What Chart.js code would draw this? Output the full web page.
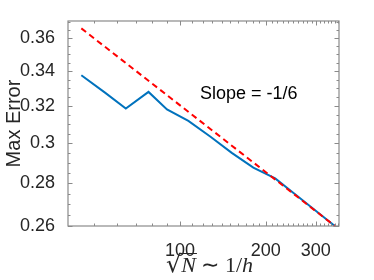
<!DOCTYPE html>
<html lang="en">
<head>
<meta charset="utf-8">
<title>Max Error vs sqrt(N)</title>
<script src="https://cdn.jsdelivr.net/npm/chart.js@4.4.0/dist/chart.umd.min.js"></script>
<style>
  html, body { margin: 0; padding: 0; background: #fff; }
</style>
</head>
<body>
<canvas id="myChart" width="374" height="280"></canvas>
<script>
// values
const sqrtN = [45, 54.5, 64.5, 77.5, 90, 107, 128, 152, 181, 216, 257, 306, 350];
const maxError = [0.3375, 0.3275, 0.3186, 0.3279, 0.3181, 0.3119, 0.3034, 0.2951, 0.2876, 0.2823, 0.2741, 0.266, 0.26];

// slope -1/6 reference line (end points)
const refX = [45, 350];
const refY = [0.366, 0.26];

// axes
const xTickLabels = [100, 200, 300];
const yTickLabels = [0.26, 0.28, 0.3, 0.32, 0.34, 0.36];
const xRange = [40.4, 362];
const yRange = [0.26, 0.3707];

// annotation
const slopeText = 'Slope = -1/6';
const slopeAt = [117.6, 0.3266];

// minor tick positions (matlab style)
let xTicks = [];
for (let v = 50; v <= 360; v += 10) xTicks.push(v);
let yTicks = [];
for (let i = 0; i <= 22; i++) yTicks.push(Math.round((0.26 + 0.005 * i) * 1000) / 1000);

const isMajor = (list, v) => list.some(t => Math.abs(t - v) < 1e-9);

const frameTicks = {
    id: 'frameTicks',
    afterDraw(chart) {
        const ctx = chart.ctx;
        const a = chart.chartArea;
        const xs = chart.scales.x, ys = chart.scales.y;
        ctx.save();
        ctx.strokeStyle = '#8a8a8a';
        ctx.lineWidth = 1.2;
        ctx.strokeRect(a.left, a.top, a.right - a.left, a.bottom - a.top);
        ctx.lineWidth = 1;
        ctx.beginPath();
        xTicks.forEach(v => {
            const px = Math.round(xs.getPixelForValue(v)) + 0.5;
            const len = isMajor(xTickLabels, v) ? 4.5 : 2.5;
            ctx.moveTo(px, a.bottom); ctx.lineTo(px, a.bottom - len);
            ctx.moveTo(px, a.top); ctx.lineTo(px, a.top + len);
        });
        yTicks.forEach(v => {
            const py = Math.round(ys.getPixelForValue(v)) + 0.5;
            const len = isMajor(yTickLabels, v) ? 4.5 : 2.5;
            ctx.moveTo(a.left, py); ctx.lineTo(a.left + len, py);
            ctx.moveTo(a.right, py); ctx.lineTo(a.right - len, py);
        });
        ctx.stroke();

        // slope note
        ctx.fillStyle = '#000';
        ctx.font = '18px "Liberation Sans", Arial, sans-serif';
        ctx.textAlign = 'left';
        ctx.textBaseline = 'middle';
        ctx.fillText(slopeText, xs.getPixelForValue(slopeAt[0]), ys.getPixelForValue(slopeAt[1]));

        // x label: sqrt(N) ~ 1/h, latex look
        const parts = [
            { t: '\u221A', f: '24px "DejaVu Serif", serif' },
            { t: 'N', f: 'italic 22px "Liberation Serif", serif', bar: true },
            { t: ' \u223C 1/', f: '22px "Liberation Serif", serif' },
            { t: 'h', f: 'italic 22px "Liberation Serif", serif' }
        ];
        let w = 0;
        parts.forEach(p => { ctx.font = p.f; p.w = ctx.measureText(p.t).width; w += p.w; });
        let x = (a.left + a.right) / 2 + 6 - w / 2;
        const base = 272;
        ctx.fillStyle = '#262626';
        ctx.textBaseline = 'alphabetic';
        parts.forEach(p => {
            ctx.font = p.f;
            ctx.fillText(p.t, x, base);
            if (p.bar) {
                ctx.beginPath();
                ctx.strokeStyle = '#262626';
                ctx.lineWidth = 1;
                ctx.moveTo(x - 1, base - 18.5);
                ctx.lineTo(x + p.w + 1, base - 18.5);
                ctx.stroke();
            }
            x += p.w;
        });
        ctx.restore();
    }
};

const tickFont = { family: '"Liberation Sans", Arial, sans-serif', size: 18 };

new Chart(document.getElementById('myChart'), {
    type: 'line',
    data: {
        datasets: [{
            label: 'Max Error',
            data: sqrtN.map((v, i) => ({ x: v, y: maxError[i] })),
            borderColor: '#0072BD',
            backgroundColor: '#0072BD',
            borderWidth: 2,
            pointRadius: 0,
            pointHoverRadius: 0,
            tension: 0,
            clip: false,
            order: 1
        }, {
            label: 'Slope -1/6',
            data: refX.map((v, i) => ({ x: v, y: refY[i] })),
            borderColor: '#FF0000',
            borderWidth: 2,
            borderDash: [6, 4],
            pointRadius: 0,
            tension: 0,
            clip: false,
            order: 0
        }]
    },
    options: {
        responsive: false,
        animation: false,
        layout: { padding: { top: 21, right: 35, left: 0, bottom: 0 } },
        plugins: { legend: { display: false }, tooltip: { enabled: false } },
        scales: {
            x: {
                type: 'logarithmic',
                min: xRange[0],
                max: xRange[1],
                grid: { display: false },
                border: { display: false },
                afterBuildTicks: s => { s.ticks = xTicks.map(v => ({ value: v })); },
                afterFit: s => { s.height = 54; },
                ticks: {
                    autoSkip: false,
                    maxRotation: 0,
                    padding: 6,
                    color: '#262626',
                    font: tickFont,
                    callback: v => isMajor(xTickLabels, v) ? String(v) : ''
                }
            },
            y: {
                type: 'logarithmic',
                min: yRange[0],
                max: yRange[1],
                grid: { display: false },
                border: { display: false },
                afterBuildTicks: s => { s.ticks = yTicks.map(v => ({ value: v })); },
                afterFit: s => { s.width = 68; },
                ticks: {
                    autoSkip: false,
                    padding: 5,
                    color: '#262626',
                    font: tickFont,
                    callback: v => isMajor(yTickLabels, v) ? String(v) : ''
                },
                title: {
                    display: true,
                    text: 'Max Error',
                    color: '#262626',
                    font: { family: '"Liberation Sans", Arial, sans-serif', size: 20 },
                    padding: { top: 2, bottom: 0 }
                }
            }
        }
    },
    plugins: [frameTicks]
});
</script>
</body>
</html>
